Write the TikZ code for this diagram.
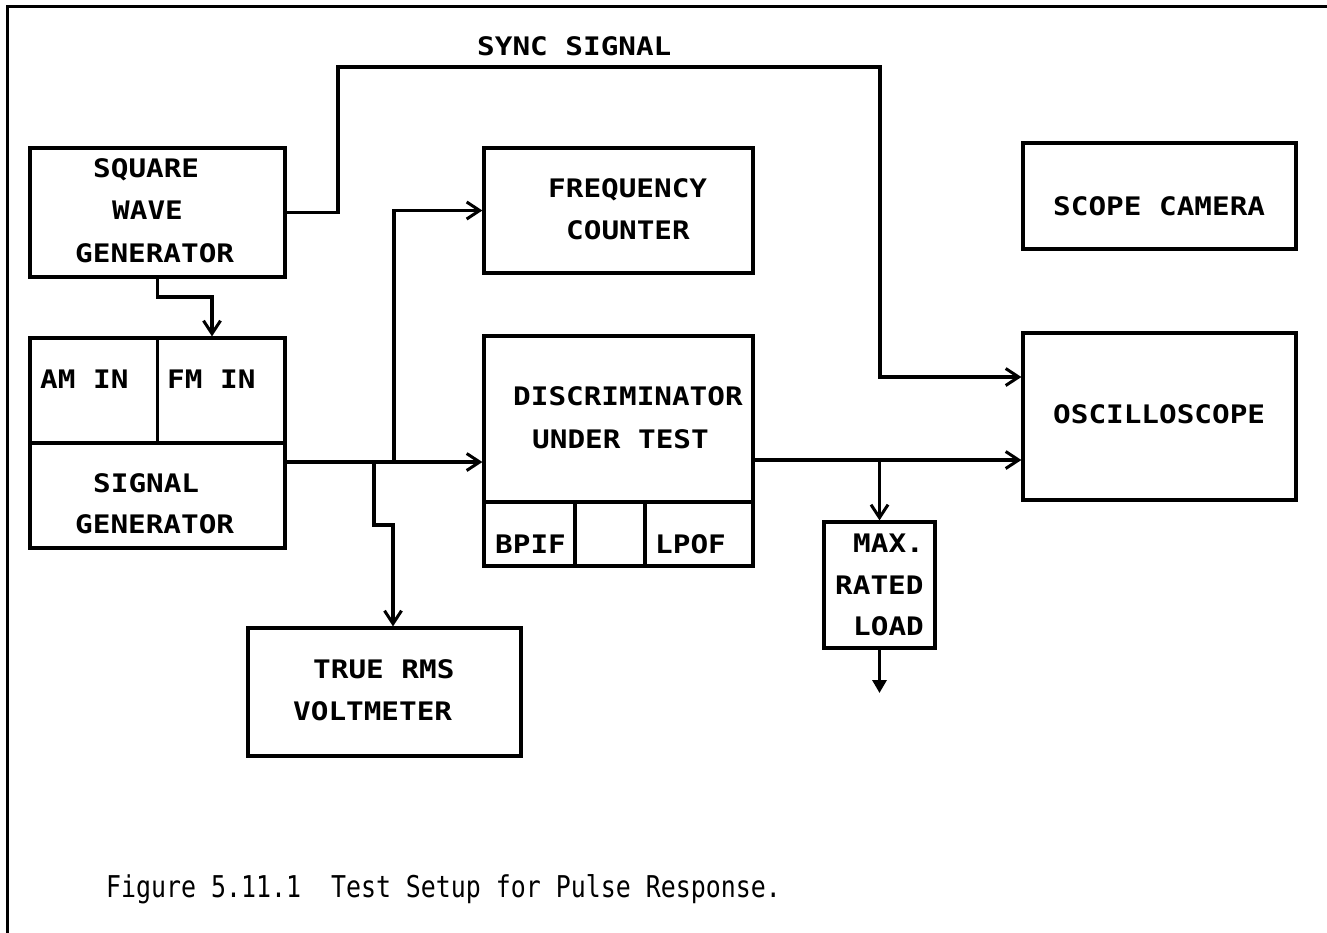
\documentclass[tikz,border=0pt]{standalone}
\usepackage{fontspec}
\usetikzlibrary{arrows.meta}
\newfontfamily\boxfont[FakeStretch=1.15]{DejaVu Sans Mono}
\newfontfamily\capfont[FakeStretch=0.83]{DejaVu Sans Mono}
\begin{document}
\begin{tikzpicture}[x=1pt,y=-1pt,
  box/.style={draw,line width=3.2pt,inner sep=0pt,rectangle},
  lbl/.style={inner sep=0pt,anchor=base west,font=\boxfont\bfseries\fontsize{25.5}{25.5}\selectfont},
  wire/.style={line width=3.2pt},
  arr/.style={line width=3.2pt,-{Straight Barb[length=13pt,width=17pt,line width=3pt]}}]
\useasboundingbox (0,0) rectangle (1327,932);
% frame
\draw[line width=3pt] (7,935) -- (7,6) -- (1330,6);
% boxes
\node[box,minimum width=255pt,minimum height=129pt] (sq) at (157.5,212.5) {};
\node[box,minimum width=255pt,minimum height=210pt] (sig) at (157.5,443) {};
\node[box,minimum width=269pt,minimum height=125pt] (fc) at (618.5,210.5) {};
\node[box,minimum width=269pt,minimum height=230pt] (disc) at (618.5,451) {};
\node[box,minimum width=273pt,minimum height=106pt] (cam) at (1159.5,196) {};
\node[box,minimum width=273pt,minimum height=167pt] (osc) at (1159.5,416.5) {};
\node[box,minimum width=273pt,minimum height=128pt] (vm) at (384.5,692) {};
\node[box,minimum width=111pt,minimum height=126pt] (load) at (879.5,585) {};
% inner dividers
\draw[wire] (sig.north) -- (sig.center);
\draw[wire] (sig.west) -- (sig.east);
\coordinate (dv) at (0,502);
\coordinate (c1) at (575,0);
\coordinate (c2) at (645,0);
\draw[wire] (disc.west |- dv) -- (disc.east |- dv);
\draw[wire] (c1 |- dv) -- (c1 |- disc.south);
\draw[wire] (c2 |- dv) -- (c2 |- disc.south);
% labels
\node[lbl] (t1) at (93,177) {SQUARE};
\node[lbl] (t2) at (112,219) {WAVE};
\node[lbl] (t3) at (75,262) {GENERATOR};
\node[lbl] (t4) at (40,388) {AM IN};
\node[lbl] (t5) at (167,388) {FM IN};
\node[lbl] (t6) at (93,492) {SIGNAL};
\node[lbl] (t7) at (75,533) {GENERATOR};
\node[lbl] (t8) at (548,197) {FREQUENCY};
\node[lbl] (t9) at (566,239) {COUNTER};
\node[lbl] (t10) at (513,405) {DISCRIMINATOR};
\node[lbl] (t11) at (532,448) {UNDER TEST};
\node[lbl] (t12) at (495,553) {BPIF};
\node[lbl] (t13) at (655,553) {LPOF};
\node[lbl] (t14) at (1053,215) {SCOPE CAMERA};
\node[lbl] (t15) at (1053,423) {OSCILLOSCOPE};
\node[lbl] (t16) at (313,678) {TRUE RMS};
\node[lbl] (t17) at (293,720) {VOLTMETER};
\node[lbl] (t18) at (853,552) {MAX.};
\node[lbl] (t19) at (835,594) {RATED};
\node[lbl] (t20) at (853,635) {LOAD};
\node[lbl] (t21) at (477,55) {SYNC SIGNAL};
\node[inner sep=0pt,anchor=base west,font=\capfont\fontsize{30}{30}\selectfont] (cap) at (106,897) {Figure 5.11.1\ \ Test Setup for Pulse Response.};
% connectors
\coordinate (fm) at (212,297);
\draw[arr] (sq.south) |- (fm) -- (fm |- sig.north);
\coordinate (sy1) at (338,67);
\coordinate (sy2) at (880,67);
\coordinate (sy3) at (880,377);
\draw[arr] (sq.east) -| (sy1) -- (sy2) -- (sy3) -- (osc.west |- sy3);
\coordinate (j1) at (394,462);
\coordinate (j2) at (374,462);
\coordinate (vmin) at (393,525);
\draw[arr] (sig.east |- j1) -- (disc.west |- j1);
\draw[arr] (j1) |- (fc.west);
\draw[arr] (j2) |- (vmin) -- (vmin |- vm.north);
\coordinate (j3) at (879.5,460);
\draw[arr] (disc.east |- j3) -- (osc.west |- j3);
\draw[arr] (j3) -- (load.north);
\coordinate (gnd) at (879.5,693);
\draw[line width=3.2pt,-{Triangle[length=13pt,width=14pt]}] (load.south) -- (gnd);
\end{tikzpicture}
\end{document}
